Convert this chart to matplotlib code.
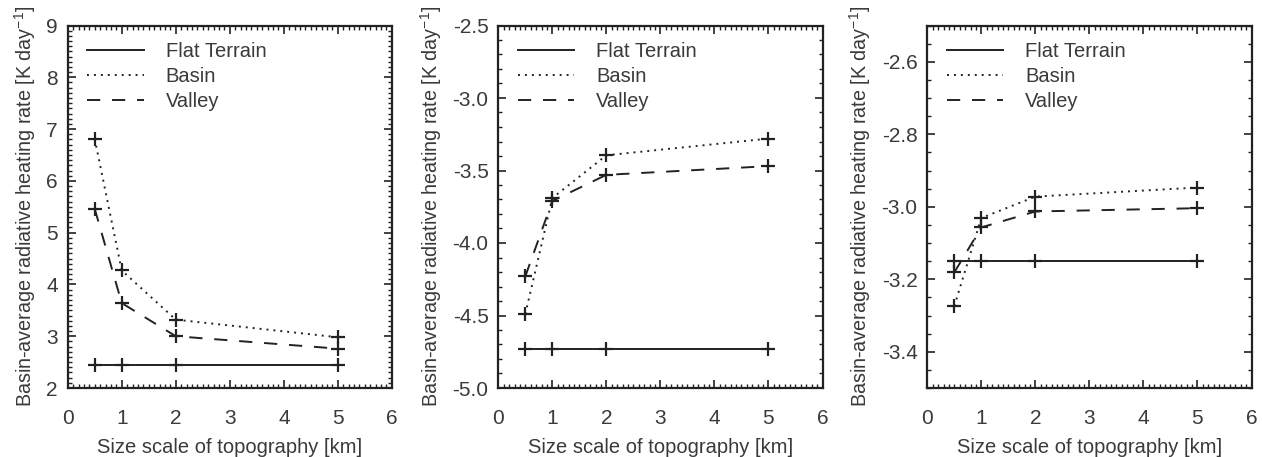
import numpy as np
import matplotlib
matplotlib.use('Agg')
import matplotlib.pyplot as plt
from matplotlib.ticker import MultipleLocator, FormatStrFormatter

# --- data ---
size_km = [0.5, 1, 2, 5]
series_names = ['Flat Terrain', 'Basin', 'Valley']

panel1_flat = [2.44, 2.44, 2.44, 2.44]
panel1_basin = [6.81, 4.27, 3.32, 2.98]
panel1_valley = [5.46, 3.64, 3.00, 2.76]

panel2_flat = [-4.73, -4.73, -4.73, -4.73]
panel2_basin = [-4.49, -3.69, -3.395, -3.28]
panel2_valley = [-4.23, -3.71, -3.53, -3.47]

panel3_flat = [-3.149, -3.149, -3.149, -3.149]
panel3_basin = [-3.274, -3.031, -2.972, -2.947]
panel3_valley = [-3.181, -3.057, -3.013, -3.004]

panels = [
    (panel1_flat, panel1_basin, panel1_valley, (2, 9), 1.0, 0.1, '%d'),
    (panel2_flat, panel2_basin, panel2_valley, (-5.0, -2.5), 0.5, 0.1, '%.1f'),
    (panel3_flat, panel3_basin, panel3_valley, (-3.5, -2.5), 0.2, 0.05, '%.1f'),
]

# --- style ---
plt.rcParams['font.family'] = ['Liberation Sans', 'DejaVu Sans']
plt.rcParams['mathtext.fontset'] = 'custom'
plt.rcParams['mathtext.rm'] = 'Liberation Sans'
plt.rcParams['mathtext.it'] = 'Liberation Sans'
plt.rcParams['lines.scale_dashes'] = False

text_col = '#3a3a3a'
line_col = '#222222'
styles = ['-', (0, (1.4, 3.6)), (0, (9.5, 8.5))]

fig = plt.figure(figsize=(12.62, 4.57), dpi=100)
W, H = 1262, 457
lefts = [67.7, 498.3, 927.3]
ax_w, top_px, bot_px = 324.2, 25.5, 388

for left, (flat, basin, valley, ylim, major, minor, fmt) in zip(lefts, panels):
    ax = fig.add_axes([left / W, 1 - bot_px / H, ax_w / W, (bot_px - top_px) / H])
    for vals, ls, name in zip([flat, basin, valley], styles, series_names):
        ax.plot(size_km, vals, linestyle=ls, color=line_col, lw=1.4,
                marker='+', ms=10, mew=1.6, label=name)
    ax.set_xlim(0, 6)
    ax.set_ylim(*ylim)
    ax.xaxis.set_major_locator(MultipleLocator(1))
    ax.xaxis.set_minor_locator(MultipleLocator(0.1))
    ax.yaxis.set_major_locator(MultipleLocator(major))
    ax.yaxis.set_minor_locator(MultipleLocator(minor))
    ax.yaxis.set_major_formatter(FormatStrFormatter(fmt))
    ax.tick_params(which='both', direction='in', top=True, right=True,
                   color=line_col, labelcolor=text_col, labelsize=15)
    ax.tick_params(which='major', length=6, width=1.2)
    ax.tick_params(which='minor', length=3, width=1.0)
    ax.tick_params(axis='x', which='major', pad=15)
    ax.tick_params(axis='y', which='major', pad=7)
    for sp in ax.spines.values():
        sp.set_linewidth(1.6)
        sp.set_color(line_col)
    ax.set_xlabel('Size scale of topography [km]', fontsize=14.5, color=text_col, labelpad=7)
    ax.set_ylabel(r'Basin-average radiative heating rate [K day$^{-1}$]',
                  fontsize=14.2, color=text_col, labelpad=6)
    leg = ax.legend(loc='upper left', bbox_to_anchor=(0.06, 0.955), frameon=False,
                    fontsize=14.5, handlelength=2.8, handletextpad=1.1,
                    labelspacing=0.3, borderpad=0, borderaxespad=0)
    for h in leg.legend_handles:
        h.set_marker('')
    for t in leg.get_texts():
        t.set_color(text_col)

fig.savefig('out.png', dpi=100)
